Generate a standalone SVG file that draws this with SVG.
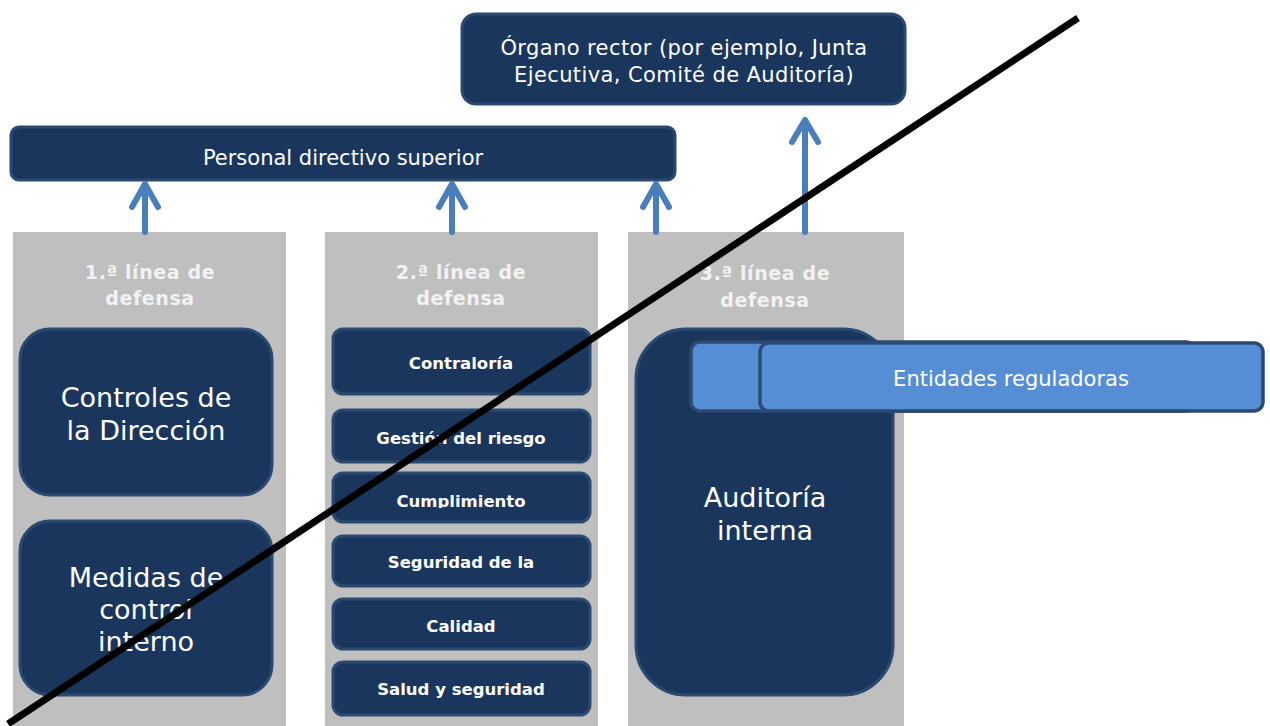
<svg xmlns="http://www.w3.org/2000/svg" width="1270" height="726" viewBox="0 0 1270 726">
<style>
.col{fill:#bfbfbf}
.box{fill:#1a365d;stroke:#2b4a72;stroke-width:3}
.lb{fill:#558ed5;stroke:#2b4a72;stroke-width:3.5}
.t{font-family:"DejaVu Sans",Verdana,sans-serif;fill:#ffffff;text-anchor:middle}
.h{font-family:"DejaVu Sans",Verdana,sans-serif;fill:#f2f2f2;text-anchor:middle;font-weight:bold;font-size:19px;letter-spacing:0.6px}
.b{font-weight:bold;font-size:16.5px}
.m{font-size:21px}
.l{font-size:27px}
.arr{stroke:#4a7ebb;stroke-width:6;fill:none;stroke-linecap:round;stroke-linejoin:round}
</style>
<defs>
<clipPath id="cpP"><rect x="10" y="126" width="666" height="41"/></clipPath>
<clipPath id="cpC"><rect x="332" y="472" width="259" height="36"/></clipPath>
</defs>
<rect width="1270" height="726" fill="#ffffff"/>
<g id="col1"><rect class="col" x="13" y="232" width="273" height="494"/>
<text class="h" x="150" y="279">1.ª línea de</text><text class="h" x="150" y="305">defensa</text></g>
<g id="col2"><rect class="col" x="325" y="232" width="273" height="494"/>
<text class="h" x="461" y="279">2.ª línea de</text><text class="h" x="461" y="305">defensa</text></g>
<g id="col3"><rect class="col" x="628" y="232" width="276" height="494"/>
<text class="h" x="765" y="280">3.ª línea de</text><text class="h" x="765" y="307">defensa</text></g>
<g id="organo"><rect class="box" x="462" y="14" width="443" height="90" rx="14"/>
<text class="t m" x="684" y="55" letter-spacing="0.4">Órgano rector (por ejemplo, Junta</text>
<text class="t m" x="684" y="82" letter-spacing="0.4">Ejecutiva, Comité de Auditoría)</text></g>
<g id="personal"><rect class="box" x="11" y="127" width="664" height="53" rx="8"/>
<text class="t m" x="343" y="165" clip-path="url(#cpP)">Personal directivo superior</text></g>
<g id="controles"><rect class="box" x="20" y="329" width="252" height="166" rx="30"/>
<text class="t l" x="146" y="407">Controles de</text>
<text class="t l" x="146" y="440">la Dirección</text></g>
<g id="medidas"><rect class="box" x="20" y="521" width="252" height="174" rx="30"/>
<text class="t l" x="146" y="587">Medidas de</text>
<text class="t l" x="146" y="619">control</text>
<text class="t l" x="146" y="651">interno</text></g>
<g id="contraloria"><rect class="box" x="333" y="329" width="257" height="65" rx="10"/>
<text class="t b" x="461" y="369">Contraloría</text></g>
<g id="gestion"><rect class="box" x="333" y="410" width="257" height="52" rx="10"/>
<text class="t b" x="461" y="444">Gestión del riesgo</text></g>
<g id="cumplimiento"><rect class="box" x="333" y="473" width="257" height="49" rx="10"/>
<text class="t b" x="461" y="507" clip-path="url(#cpC)">Cumplimiento</text></g>
<g id="seguridad"><rect class="box" x="333" y="536" width="257" height="50" rx="10"/>
<text class="t b" x="461" y="568">Seguridad de la</text></g>
<g id="calidad"><rect class="box" x="333" y="599" width="257" height="50" rx="10"/>
<text class="t b" x="461" y="632">Calidad</text></g>
<g id="salud"><rect class="box" x="333" y="662" width="257" height="53" rx="10"/>
<text class="t b" x="461" y="695">Salud y seguridad</text></g>
<g id="auditoria"><rect class="box" x="636" y="329" width="257" height="366" rx="50"/>
<text class="t l" x="765" y="507">Auditoría</text>
<text class="t l" x="765" y="540">interna</text></g>
<g id="entidades"><rect class="lb" x="691" y="342" width="504" height="69" rx="9"/>
<rect class="lb" x="760" y="343" width="503" height="68" rx="9"/>
<text class="t m" x="1011" y="386">Entidades reguladoras</text></g>
<g id="connectors">
<path class="arr" d="M145 232V184M132 207L145 184L158 207"/>
<path class="arr" d="M452 232V184M439 207L452 184L465 207"/>
<path class="arr" d="M656 232V184M643 207L656 184L669 207"/>
<path class="arr" d="M805 232V120M792 142L805 120L818 142"/>
</g>
<line x1="1078" y1="18" x2="8" y2="724" stroke="#000000" stroke-width="7"/>
</svg>
